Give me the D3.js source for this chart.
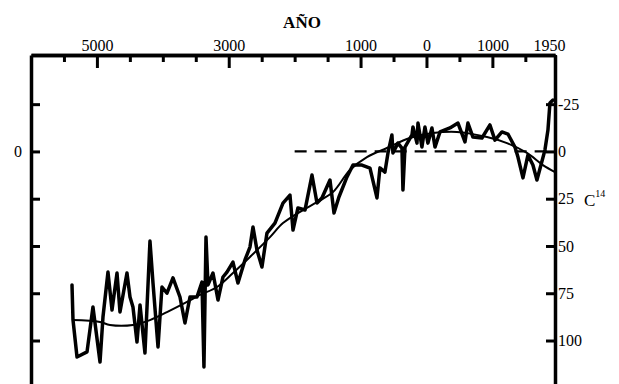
<!DOCTYPE html>
<html>
<head>
<meta charset="utf-8">
<script src="https://cdn.jsdelivr.net/npm/d3@7"></script>
<style>
  html, body { margin: 0; padding: 0; background: #fff; }
  svg { display: block; }
  text { font-family: "Liberation Serif", "Times New Roman", serif; fill: #000; }
</style>
</head>
<body>
<svg id="chart" width="619" height="384"></svg>
<script>
// Radiocarbon record: year (negative = BC) and Δ14C (‰), axis inverted (positive downward)
const years = [-5378, -5363, -5302, -5150, -5060, -4953, -4908, -4832, -4771, -4695, -4650, -4544, -4498, -4453,
  -4392, -4346, -4271, -4195, -4149, -4073, -4013, -3937, -3846, -3740, -3664, -3588, -3482, -3406, -3376,
  -3345, -3315, -3239, -3163, -3087, -3027, -2936, -2860, -2754, -2678, -2632, -2572, -2496, -2420, -2299,
  -2177, -2071, -2025, -1950, -1843, -1737, -1661, -1586, -1464, -1403, -1328, -1206, -1115, -979, -857,
  -751, -706, -630, -584, -524, -509, -433, -372, -357, -326,
  -220, -205, -144, -129, -69, -23, 22, 83, 129, 205, 356, 478, 584,
  629, 705, 842, 963, 1039, 1145, 1236, 1342, 1388, 1464, 1539, 1615, 1676, 1737, 1797, 1843, 1873, 1919];
const delta14C = [70.6, 89, 108.7, 106, 82.3, 111.4, 87.6, 63.8, 83.9, 64.3, 84.9, 64.3, 77, 82.3,
  100.8, 81.2, 106.6, 47.4, 69.6, 103.4, 71.7, 74.9, 66.9, 77, 90.7, 77, 77, 69.1, 114,
  45.3, 70.6, 64.3, 78.6, 66.4, 63.8, 58.5, 69.6, 57.4, 50.6, 40, 52.1, 61.1, 43.2, 37.9,
  27.3, 23.1, 41.6, 29.9, 31, 12.5, 27.3, 24.6, 15.1, 32.6, 24.1, 13.5, 7.2, 7.2, 8.8,
  24.6, 8.7, 10.9, 0.8, -8.7, 0.8, -4.4, -1.8, 20.4, -2.3,
  -8.7, -12.9, -4.4, -15, -2.3, -12.9, -4.4, -12.4, -2.3, -10.3, -12.4, -15, -5,
  -15, -7.6, -7.1, -14, -6, -10.3, -9.2, -2.3, 3, 14, 1.9, 7.2, 15.1, 7.2, -0.7, -11.3, -25.6, -27.2];

// Long-term trend
const trendYears = [-5378, -4953, -4802, -4453, -4195, -3937, -3633, -3436, -3178, -2936, -2678, -2374, -2177,
  -1874, -1661, -1419, -1161, -903, -600, -251, 98, 462, 918, 1221, 1524, 1767, 1950];
const trendValues = [89.2, 90.2, 91.8, 91.8, 89.2, 85, 79.6, 75.9, 71.7, 64.3, 55.8, 45.3, 37.9,
  31, 26.8, 21.5, 9.8, 3, -1.8, -7.1, -9.7, -10.3, -7.6, -4.4, 0.8, 7.2, 10.9];

// Reference level
const refStart = -2000, refEnd = 1950, refValue = 0;

const majorYearTicks = [-5000, -3000, -1000, 0, 1000, 1950];
const minorYearTicks = [-5500, -4500, -4000, -3500, -2500, -2000, -1500, -500, 500, 1500];
const deltaTicks = [-25, 0, 25, 50, 75, 100];

const svg = d3.select("#chart");
const plotLeft = 31, plotRight = 555, plotTop = 55, plotBottom = 384;

const x = d3.scaleLinear().domain([-6000, 1950]).range([plotLeft, plotRight]);
const y = d3.scaleLinear().domain([-51, 123]).range([plotTop, plotBottom]);

// Reference dashed line
svg.append("line")
  .attr("x1", x(refStart)).attr("x2", x(refEnd))
  .attr("y1", y(refValue)).attr("y2", y(refValue))
  .attr("stroke", "#000").attr("stroke-width", 2.2)
  .attr("stroke-dasharray", "12,8");

// Trend curve
const trend = trendYears.map((t, i) => [t, trendValues[i]]);
svg.append("path")
  .datum(trend)
  .attr("fill", "none").attr("stroke", "#000").attr("stroke-width", 2)
  .attr("d", d3.line().x(d => x(d[0])).y(d => y(d[1])).curve(d3.curveCatmullRom));

// Measured series
const series = years.map((t, i) => [t, delta14C[i]]);
svg.append("path")
  .datum(series)
  .attr("fill", "none").attr("stroke", "#000").attr("stroke-width", 3.5)
  .attr("stroke-linejoin", "round").attr("stroke-linecap", "round")
  .attr("d", d3.line().x(d => x(d[0])).y(d => y(d[1])));

// Axes
function styleAxis(g, size) {
  g.select(".domain").attr("stroke-width", 3.5);
  g.selectAll(".tick line").attr("stroke-width", 3);
  g.selectAll(".tick text").style("font-family", "'Liberation Serif', serif").style("font-size", size + "px");
}

svg.append("g").attr("transform", `translate(0,${plotTop})`)
  .call(d3.axisTop(x).tickValues(minorYearTicks).tickSizeInner(-7).tickSizeOuter(0).tickFormat(""))
  .call(g => styleAxis(g, 16));

svg.append("g").attr("transform", `translate(0,${plotTop})`)
  .call(d3.axisTop(x).tickValues(majorYearTicks).tickSizeInner(-13).tickSizeOuter(0).tickPadding(4)
    .tickFormat(d => String(Math.abs(d))))
  .call(g => styleAxis(g, 16))
  .call(g => g.selectAll(".tick text").filter(d => d === 1950).attr("dx", -6));

svg.append("g").attr("transform", `translate(${plotLeft},0)`)
  .call(d3.axisLeft(y).tickValues(deltaTicks).tickSizeInner(-9).tickSizeOuter(0).tickPadding(9)
    .tickFormat(d => d === 0 ? "0" : ""))
  .call(g => styleAxis(g, 16));

svg.append("g").attr("transform", `translate(${plotRight},0)`)
  .call(d3.axisRight(y).tickValues(deltaTicks).tickSizeInner(-9).tickSizeOuter(0).tickPadding(3)
    .tickFormat(d => String(d)))
  .call(g => styleAxis(g, 16));

// Titles
svg.append("text").attr("x", 302).attr("y", 28).attr("text-anchor", "middle")
  .style("font-weight", "bold").style("font-size", "17px").text("AÑO");

const c14 = svg.append("text").attr("x", 584).attr("y", 206).style("font-size", "17px");
c14.append("tspan").text("C");
c14.append("tspan").attr("dy", -9).style("font-size", "10px").text("14");
</script>
</body>
</html>
